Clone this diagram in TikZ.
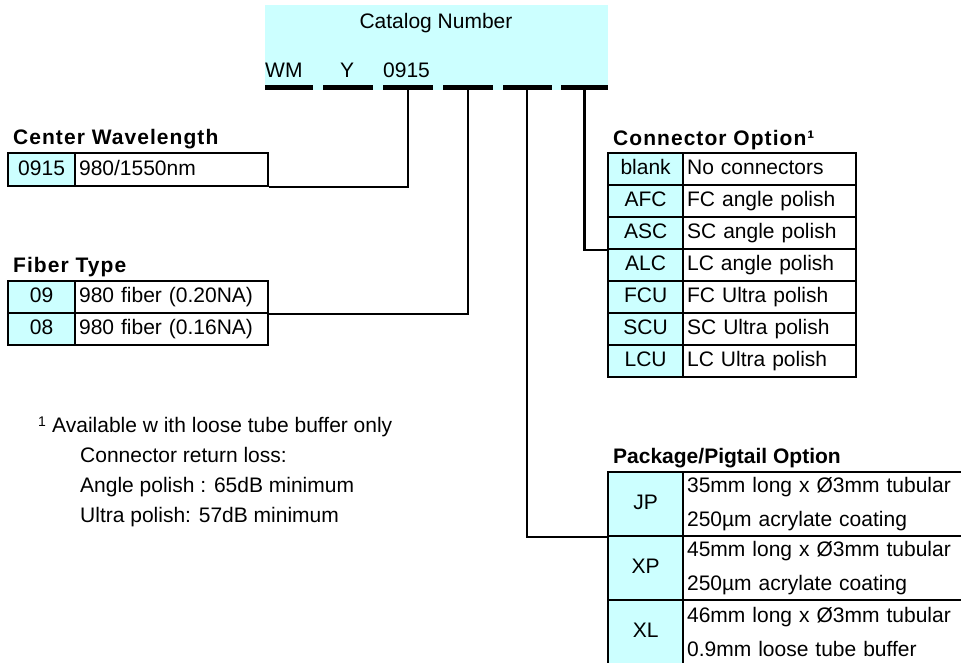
\documentclass[tikz,border=0pt]{standalone}
\usepackage{fontspec}
\setmainfont{Liberation Sans}
\definecolor{catcyan}{HTML}{CCFFFF}
\tikzset{
  txt/.style={font=\fontsize{21}{25}\selectfont, inner sep=0pt},
  ttl/.style={font=\fontsize{21}{25}\selectfont\bfseries, inner sep=0pt, anchor=base west},
  wttl/.style={ttl, font=\fontsize{21}{25}\selectfont\bfseries\addfontfeature{LetterSpace=5}},
  barseg/.style={fill=black, inner sep=0pt, minimum height=5pt},
  cellbase/.style={draw, line width=2.2pt, inner sep=0pt, anchor=north west,
    font=\fontsize{21}{25}\selectfont},
  codecell/.style={cellbase, fill=catcyan, text height=15pt, text depth=4pt},
  desccell/.style={cellbase, fill=white, text height=15pt, text depth=4pt,
    inner xsep=4pt, align=left},
  desc2cell/.style={cellbase, fill=white, inner xsep=4pt, align=left,
    font=\fontsize{21}{34}\selectfont},
  conn/.style={line width=2.5pt}
}
\begin{document}
\begin{tikzpicture}[x=1pt,y=-1pt]
\useasboundingbox (0,0) rectangle (961,662);
\clip (0,0) rectangle (961,662);

% catalog number box
\node[fill=catcyan, inner sep=0pt, minimum width=343pt, minimum height=85pt, anchor=north west] (cat) at (265,5) {};
\node[txt, anchor=base] (catttl) at (436,28) {Catalog Number};
\node[txt, anchor=base west] (wm) at (265,77) {WM};
\node[txt, anchor=base] (yy) at (347,77) {Y};
\node[txt, anchor=base west] (wl) at (383,77) {0915};

\node[barseg, minimum width=48pt] (b1) at (289,87.5) {};
\node[barseg, minimum width=50pt] (b2) at (348,87.5) {};
\node[barseg, minimum width=50pt] (b3) at (408,87.5) {};
\node[barseg, minimum width=50pt] (b4) at (468,87.5) {};
\node[barseg, minimum width=49pt] (b5) at (527,87.5) {};
\node[barseg, minimum width=47pt] (b6) at (584.5,87.5) {};

% Center wavelength
\node[wttl] (cwttl) at (13,144) {Center Wavelength};
\node[codecell, minimum width=67pt, minimum height=33pt] (cwc) at (7,152) {0915};
\node[desccell, minimum height=33pt, text width=185pt] (cwd) at (74,152) {980/1550nm};

% Fiber type
\node[wttl] (ftttl) at (13,272) {Fiber Type};
\node[codecell, minimum width=67pt, minimum height=32pt] (ft1c) at (7,280) {09};
\node[desccell, minimum height=32pt, text width=185pt] (ft1d) at (74,280) {980 fiber (0.20NA)};
\node[codecell, minimum width=67pt, minimum height=32pt] (ft2c) at (7,312) {08};
\node[desccell, minimum height=32pt, text width=185pt] (ft2d) at (74,312) {980 fiber (0.16NA)};

% Connector option
\node[wttl] (cottl) at (613,145) {Connector Option¹};
\foreach \i/\c/\d in {1/blank/No connectors, 2/AFC/FC angle polish, 3/ASC/SC angle polish,
  4/ALC/LC angle polish, 5/FCU/FC Ultra polish, 6/SCU/SC Ultra polish, 7/LCU/LC Ultra polish}{
  \node[codecell, minimum width=75pt, minimum height=32pt] (co\i c) at (607,{152+32*(\i-1)}) {\c};
  \node[desccell, minimum height=32pt, text width=165pt] (co\i d) at (682,{152+32*(\i-1)}) {\d};
}

% Package / pigtail option
\node[ttl] (ppttl) at (613,463) {Package/Pigtail Option};
\node[codecell, minimum width=75pt, minimum height=64pt] (pp1c) at (607,471) {JP};
\node[desc2cell, minimum height=64pt, text width=322pt] (pp1d) at (682,471) {35mm long x Ø3mm tubular\\250µm acrylate coating};
\node[codecell, minimum width=75pt, minimum height=64pt] (pp2c) at (607,535) {XP};
\node[desc2cell, minimum height=64pt, text width=322pt] (pp2d) at (682,535) {45mm long x Ø3mm tubular\\250µm acrylate coating};
\node[codecell, minimum width=75pt, minimum height=64pt] (pp3c) at (607,599) {XL};
\node[desc2cell, minimum height=64pt, text width=322pt] (pp3d) at (682,599) {46mm long x Ø3mm tubular\\0.9mm loose tube buffer};

% connectors
\draw[conn] (b3.south) |- (cwd.south east);
\draw[conn] (b4.south) |- (ft1d.south east);
\draw[conn] (b5.south) |- (pp1c.south west);
\draw[conn] (b6.south) |- (co3c.south west);

% footnote
\node[txt, anchor=base west] (fn0) at (38,432) {\raisebox{6pt}{\fontsize{14}{14}\selectfont 1}};
\node[txt, anchor=base west] (fn1) at (52,432) {Available w ith loose tube buffer only};
\node[txt, anchor=base west] (fn2) at (80,462) {Connector return loss:};
\node[txt, anchor=base west] (fn3) at (80,492) {Angle polish : 65dB minimum};
\node[txt, anchor=base west] (fn4) at (80,522) {Ultra polish: 57dB minimum};
\end{tikzpicture}
\end{document}
